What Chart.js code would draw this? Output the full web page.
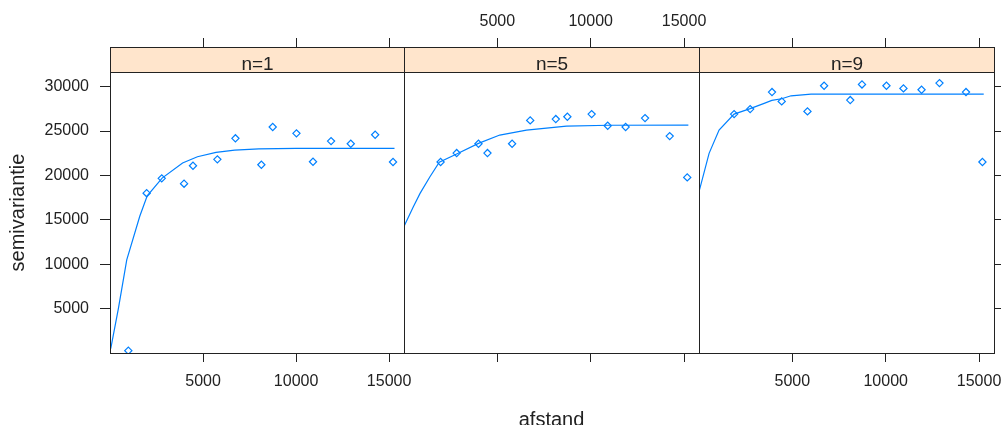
<!DOCTYPE html>
<html><head><meta charset="utf-8">
<script src="https://cdn.jsdelivr.net/npm/chart.js@4.4.1/dist/chart.umd.min.js"></script>
<style>
html,body{margin:0;padding:0;background:#fff;}
#wrap{position:relative;width:1001px;height:425px;overflow:hidden;background:#fff;}
#wrap canvas{position:absolute;left:0;top:0;}
</style></head><body>
<div id="wrap">
<canvas id="c1" width="1001" height="425"></canvas>
<canvas id="c2" width="1001" height="425"></canvas>
<canvas id="c3" width="1001" height="425"></canvas>
</div>
<script>
// ---- data ----
const panelLabels = ['n=1', 'n=5', 'n=9'];
const xTicks = [5000, 10000, 15000];
const yTicks = [5000, 10000, 15000, 20000, 25000, 30000];
const xMin = 0, xMax = 15800;
const yMin = 0, yMax = 31650;
const xTitle = 'afstand';
const yTitle = 'semivariantie';

// panel n=1
const lag1 = [985, 1970, 2780, 3980, 4460, 5770, 6740, 8135, 8745, 10020, 10910, 11880, 12940, 14250, 15210];
const sv1  = [260, 18000, 19670, 19070, 21090, 21810, 24180, 21200, 25450, 24740, 21540, 23870, 23570, 24580, 21510];
const fitLag1 = [40, 450, 900, 1600, 2000, 2800, 3900, 4700, 5700, 6700, 8000, 10000, 15290];
const fitSv1  = [500, 5000, 10500, 15400, 17700, 19700, 21400, 22100, 22600, 22850, 23000, 23050, 23050];

// panel n=5
const lag2 = [1960, 2820, 3990, 4470, 5790, 6760, 8130, 8750, 10050, 10910, 11870, 12910, 14230, 15170];
const sv2  = [21510, 22520, 23570, 22520, 23570, 26200, 26350, 26610, 26910, 25600, 25450, 26460, 24430, 19780];
const fitLag2 = [30, 500, 860, 1390, 1890, 2820, 3990, 5130, 6560, 8700, 11000, 15230];
const fitSv2  = [14400, 16470, 17980, 19850, 21500, 22410, 23610, 24550, 25110, 25560, 25650, 25670];

// panel n=9
const lag3 = [1880, 2740, 3910, 4430, 5810, 6700, 8100, 8730, 10040, 10950, 11920, 12880, 14300, 15180];
const sv3  = [26910, 27470, 29390, 28340, 27210, 30100, 28490, 30250, 30100, 29800, 29650, 30400, 29390, 21510];
const fitLag3 = [30, 540, 1075, 1880, 2740, 3490, 3900, 4430, 4930, 6000, 15250];
const fitSv3  = [18400, 22490, 25110, 26910, 27520, 28110, 28450, 28640, 28970, 29160, 29160];

// ---- styling ----
const INK = '#222222';
const BLUE = '#0080ff';
const FONT = "'Liberation Sans', Arial, sans-serif";

const framePlugin = {
  id: 'frame',
  afterDraw(chart) {
    const {ctx, chartArea: a} = chart;
    const label = chart.options.plugins.frame.label;
    ctx.save();
    const l = Math.round(a.left) + 0.5, r = Math.round(a.right) + 0.5;
    const t = Math.round(a.top) + 0.5, b = Math.round(a.bottom) + 0.5;
    const st = t - 25;
    ctx.fillStyle = '#ffe5cc';
    ctx.fillRect(l, st, r - l, t - st);
    ctx.strokeStyle = INK;
    ctx.lineWidth = 1;
    ctx.strokeRect(l, st, r - l, t - st);
    ctx.strokeRect(l, t, r - l, b - t);
    ctx.fillStyle = INK;
    ctx.font = '19px ' + FONT;
    ctx.textAlign = 'center';
    ctx.textBaseline = 'alphabetic';
    ctx.fillText(label, (l + r) / 2, t - 2.5);
    ctx.restore();
  }
};

function setTicks(vals) { return s => { s.ticks = vals.map(v => ({value: v})); }; }
const plain = v => String(v);

function makePanel(id, idx, lag, sv, fitLag, fitSv, o) {
  const pts = lag.map((x, i) => ({x: x, y: sv[i]}));
  const fit = fitLag.map((x, i) => ({x: x, y: fitSv[i]}));
  const tickFont = {family: FONT, size: 16};
  const scales = {
    x: {
      type: 'linear', position: 'bottom', min: xMin, max: xMax,
      afterBuildTicks: setTicks(xTicks),
      grid: {drawOnChartArea: false, drawTicks: true, tickLength: 9, color: INK, lineWidth: 1},
      border: {display: false},
      ticks: {display: o.bottomLabels, autoSkip: false, maxRotation: 0, minRotation: 0, padding: 10, color: INK, font: tickFont, callback: plain},
      title: o.xTitle ? {display: true, text: xTitle, color: INK, font: {family: FONT, size: 20}, padding: {top: 0, bottom: -7}} : {display: false},
      afterFit: s => { s.height = 72; s.paddingLeft = 0; s.paddingRight = 0; }
    },
    xt: {
      type: 'linear', axis: 'x', position: 'top', min: xMin, max: xMax,
      afterBuildTicks: setTicks(xTicks),
      grid: {drawOnChartArea: false, drawTicks: true, tickLength: 34, color: INK, lineWidth: 1},
      border: {display: false},
      ticks: {display: o.topLabels, autoSkip: false, maxRotation: 0, minRotation: 0, padding: 7, color: INK, font: tickFont, callback: plain},
      afterFit: s => { s.height = 72; s.paddingLeft = 0; s.paddingRight = 0; }
    },
    y: {
      type: 'linear', position: o.yPos, display: o.yDisplay, min: yMin, max: yMax,
      afterBuildTicks: setTicks(yTicks),
      grid: {drawOnChartArea: false, drawTicks: true, tickLength: o.yPos === 'left' ? 10 : 9, color: INK, lineWidth: 1},
      border: {display: false},
      ticks: {display: o.yLabels, autoSkip: false, padding: 11, color: INK, font: tickFont, callback: plain},
      title: o.yTitle ? {display: true, text: yTitle, color: INK, font: {family: FONT, size: 20}, padding: {top: 6, bottom: 0}} : {display: false},
      afterFit: s => { s.width = o.yWidth; s.paddingTop = 0; s.paddingBottom = 0; }
    }
  };
  return new Chart(document.getElementById(id), {
    type: 'scatter',
    data: {
      datasets: [
        {data: fit, showLine: true, borderColor: BLUE, borderWidth: 1.2, pointRadius: 0, tension: 0, fill: false, xAxisID: 'x', yAxisID: 'y'},
        {data: pts, showLine: false, pointStyle: 'rectRot', pointRadius: 3.6, borderColor: BLUE, backgroundColor: 'rgba(0,0,0,0)', pointBorderWidth: 1.2, xAxisID: 'x', yAxisID: 'y'}
      ]
    },
    options: {
      responsive: false, animation: false, devicePixelRatio: 1,
      events: [],
      layout: {padding: o.padding},
      scales: scales,
      plugins: {legend: {display: false}, tooltip: {enabled: false}, title: {display: false}, frame: {label: panelLabels[idx]}}
    },
    plugins: [framePlugin]
  });
}

makePanel('c1', 0, lag1, sv1, fitLag1, fitSv1, {
  bottomLabels: true, topLabels: false, xTitle: false,
  yPos: 'left', yDisplay: true, yLabels: true, yTitle: true, yWidth: 110,
  padding: {left: 0, right: 597, top: 0, bottom: 0}
});
makePanel('c2', 1, lag2, sv2, fitLag2, fitSv2, {
  bottomLabels: false, topLabels: true, xTitle: true,
  yPos: 'left', yDisplay: false, yLabels: false, yTitle: false, yWidth: 0,
  padding: {left: 404, right: 302, top: 0, bottom: 0}
});
makePanel('c3', 2, lag3, sv3, fitLag3, fitSv3, {
  bottomLabels: true, topLabels: false, xTitle: false,
  yPos: 'right', yDisplay: true, yLabels: false, yTitle: false, yWidth: 7,
  padding: {left: 699, right: 0, top: 0, bottom: 0}
});
</script>
</body></html>
